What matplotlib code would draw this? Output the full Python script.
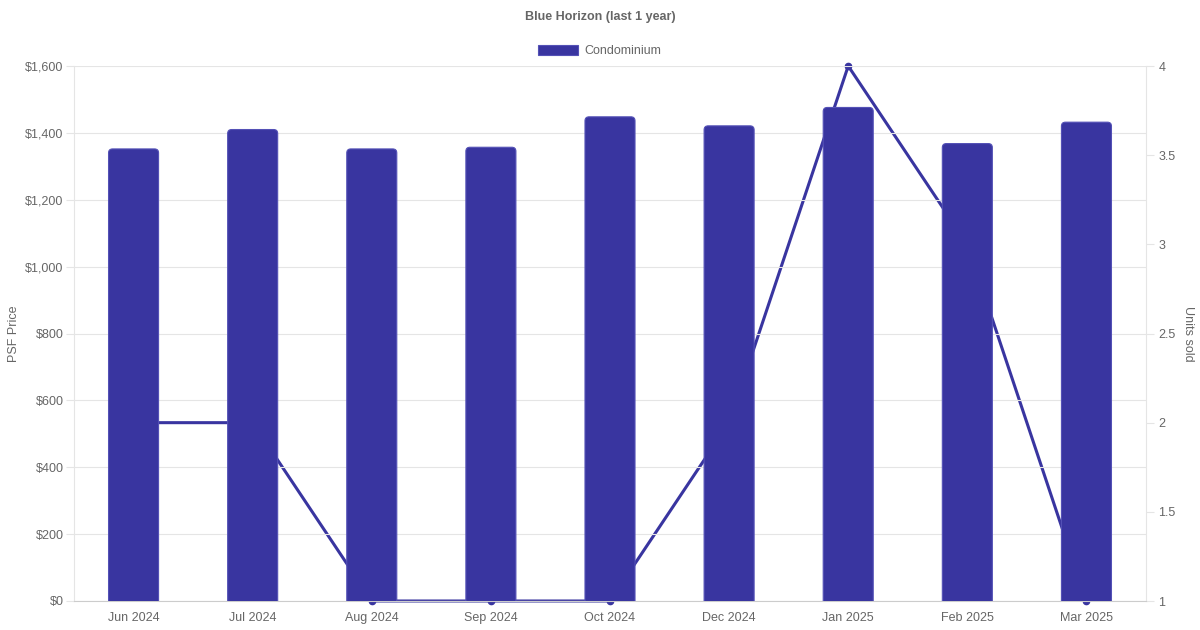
import matplotlib.pyplot as plt
from matplotlib.patches import FancyBboxPatch, Patch
from matplotlib.ticker import FuncFormatter

plt.rcParams['font.family'] = ['Liberation Sans', 'DejaVu Sans']

# данные
months = ['Jun 2024', 'Jul 2024', 'Aug 2024', 'Sep 2024', 'Oct 2024',
          'Dec 2024', 'Jan 2025', 'Feb 2025', 'Mar 2025']
psf = [1352, 1410, 1352, 1357, 1448, 1421, 1476, 1368, 1432]
units = [2, 2, 1, 1, 1, 2, 4, 3, 1]

bar_color = '#3935a0'
edge_color = '#5451b6'
text_color = '#666666'
grid_color = '#e5e5e5'

fig = plt.figure(figsize=(12, 6.3), dpi=100)
ax = fig.add_axes([74 / 1200, 1 - 601 / 630, (1146 - 74) / 1200, (601 - 66) / 630])
ax2 = ax.twinx()

# линия (правая ось) рисуется за столбцами
ax.set_zorder(ax2.get_zorder() + 1)
ax.patch.set_visible(False)

x = range(len(months))
ax2.plot(x, units, color=bar_color, lw=2.2, marker='o', ms=4.5, clip_on=False, zorder=2)
ax2.set_ylim(1, 4)
ax2.set_yticks([1, 1.5, 2, 2.5, 3, 3.5, 4])
ax2.set_yticklabels(['1', '1.5', '2', '2.5', '3', '3.5', '4'])

ax.set_xlim(-0.5, len(months) - 0.5)
ax.set_ylim(0, 1600)

# столбцы со скруглёнными верхними углами
width = 0.42
asp = (1600 / 535) / (len(months) / 1072)
r = 4 / (1072 / len(months))
bars = ax.bar(x, psf, width=width, color=bar_color)
for b in bars:
    b.set_visible(False)
    fb = FancyBboxPatch((b.get_x(), -30), b.get_width(), b.get_height() + 30,
                        boxstyle=f'round,pad=0,rounding_size={r}', mutation_aspect=asp,
                        facecolor=bar_color, edgecolor=edge_color, lw=0.8, zorder=3)
    ax.add_patch(fb)

ax.set_yticks(range(0, 1601, 200))
ax.yaxis.set_major_formatter(FuncFormatter(lambda v, p: f'${v:,.0f}'))
ax.set_xticks(list(x))
ax.set_xticklabels(months)
ax.grid(axis='y', color=grid_color, lw=0.8, zorder=0)
ax.set_axisbelow(True)

for a in (ax, ax2):
    for s in a.spines.values():
        s.set_visible(False)
ax.spines['left'].set_visible(True)
ax.spines['bottom'].set_visible(True)
ax2.spines['right'].set_visible(True)
ax.spines['left'].set_color(grid_color)
ax.spines['bottom'].set_color('#cccccc')
ax2.spines['right'].set_color(grid_color)

ax.tick_params(axis='y', length=6, color=grid_color, labelcolor=text_color, labelsize=9, pad=1.5)
ax.tick_params(axis='x', length=0, labelcolor=text_color, labelsize=9, pad=8)
ax2.tick_params(axis='y', length=6, color=grid_color, labelcolor=text_color, labelsize=9, pad=3)

ax.set_ylabel('PSF Price', color=text_color, fontsize=9, labelpad=4)
ax2.set_ylabel('Units sold', color=text_color, fontsize=9, rotation=270, labelpad=13)

fig.text(0.5, 1 - 17 / 630, 'Blue Horizon (last 1 year)', ha='center', va='center',
         fontsize=9, fontweight='bold', color=text_color)

handle = Patch(facecolor=bar_color, edgecolor=edge_color, lw=0.8)
fig.legend([handle], ['Condominium'], loc='center', bbox_to_anchor=(0.5, 1 - 51 / 630),
           frameon=False, fontsize=9, labelcolor=text_color, handlelength=3.2,
           handleheight=0.9, handletextpad=0.5)

fig.savefig('out.png', dpi=100)
